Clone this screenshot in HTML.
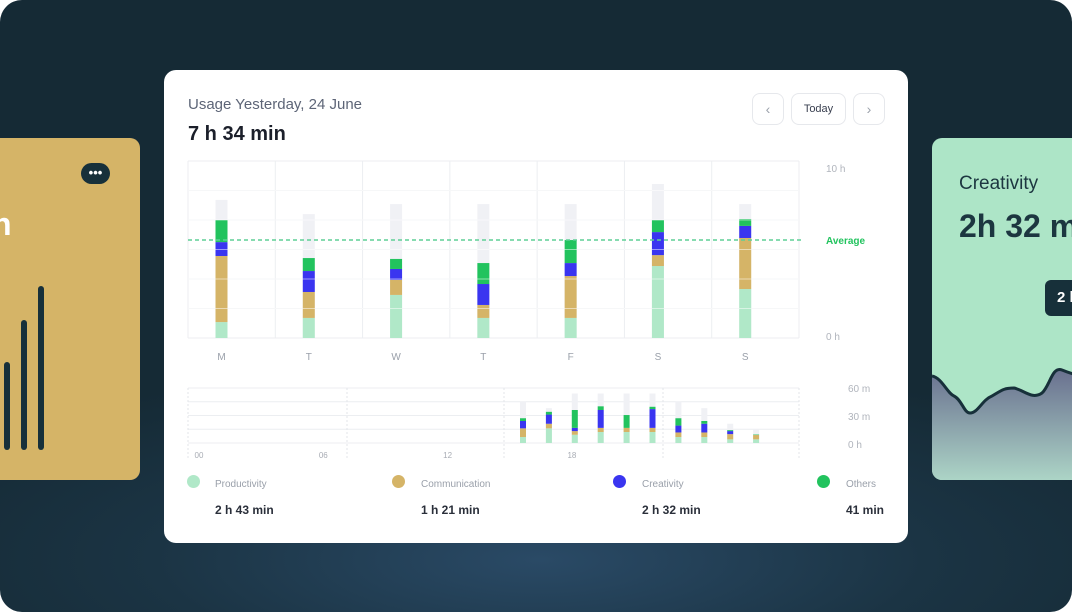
<!DOCTYPE html>
<html><head><meta charset="utf-8">
<style>
*{margin:0;padding:0;box-sizing:border-box}
body{width:1072px;height:612px;overflow:hidden;background:#fff;font-family:"Liberation Sans",sans-serif}
#bg{position:absolute;left:0;top:0;width:1072px;height:612px;border-radius:22px;overflow:hidden;background:radial-gradient(ellipse 700px 200px at 540px 560px,#2a4a66 0%,#1b3444 55%,#152a35 100%)}
.abs{position:absolute}
</style></head><body>
<div id="bg">
  <div class="abs" style="left:-20px;top:138px;width:160px;height:342px;background:#d5b467;border-radius:10px">
    <div class="abs" style="left:101px;top:25px;width:29px;height:21px;background:#17303a;border-radius:11px;color:#fff;font-size:13px;text-align:center;line-height:19px;font-weight:bold">•••</div>
    <div class="abs" style="left:12px;top:68px;color:#fff;font-size:32px;font-weight:bold">n</div>
    <div class="abs" style="left:24px;top:224px;width:6px;height:88px;background:#17303a;border-radius:3px"></div>
    <div class="abs" style="left:41px;top:182px;width:6px;height:130px;background:#17303a;border-radius:3px"></div>
    <div class="abs" style="left:58px;top:148px;width:6px;height:164px;background:#17303a;border-radius:3px"></div>
  </div>
  <div class="abs" style="left:932px;top:138px;width:170px;height:342px;background:#ade5c7;border-radius:10px;overflow:hidden">
    <div class="abs" style="left:27px;top:35px;color:#1c3640;font-size:19px">Creativity</div>
    <div class="abs" style="left:27px;top:70px;color:#1c3640;font-size:32px;font-weight:bold">2h 32 m</div>
    <div class="abs" style="left:113px;top:142px;width:60px;height:36px;background:#17303a;border-radius:6px;color:#fff;font-size:15px;font-weight:bold;padding:9px 0 0 12px">2 h</div>
    <svg class="abs" style="left:0;top:0" width="170" height="342">
      <defs><linearGradient id="wg" x1="0" y1="0" x2="0" y2="1"><stop offset="0" stop-color="#69708f"/><stop offset="1" stop-color="#acd4c6"/></linearGradient></defs>
      <path d="M0,238 C10,240 15,255 22,258 C30,262 32,275 38,275 C46,275 50,262 60,258 C70,252 72,250 82,250 C92,252 100,262 110,255 C118,248 120,228 130,232 C140,236 150,240 170,238 L170,342 L0,342Z" fill="url(#wg)"/>
      <path d="M0,238 C10,240 15,255 22,258 C30,262 32,275 38,275 C46,275 50,262 60,258 C70,252 72,250 82,250 C92,252 100,262 110,255 C118,248 120,228 130,232 C140,236 150,240 170,238" fill="none" stroke="#17303a" stroke-width="3"/>
    </svg>
  </div>
  <div class="abs" style="left:164px;top:70px;width:744px;height:473px;background:#fff;border-radius:12px">
    <div class="abs" style="left:24px;top:26px;font-size:15px;color:#5d6577">Usage Yesterday, 24 June</div>
    <div class="abs" style="left:24px;top:53px;font-size:20px;color:#1b1f2a;font-weight:bold">7 h 34 min</div>
    <div class="abs" style="left:588px;top:23px;width:32px;height:32px;border:1px solid #e6e8ec;border-radius:8px;color:#9aa0aa;text-align:center;line-height:30px;font-size:14px">‹</div>
    <div class="abs" style="left:627px;top:23px;width:55px;height:32px;border:1px solid #e6e8ec;border-radius:8px;color:#3a4050;text-align:center;line-height:30px;font-size:11px">Today</div>
    <div class="abs" style="left:689px;top:23px;width:32px;height:32px;border:1px solid #e6e8ec;border-radius:8px;color:#9aa0aa;text-align:center;line-height:30px;font-size:14px">›</div>
  </div>
  <svg id="chart" class="abs" style="left:0;top:0" width="1072" height="612"></svg>
  <div class="abs" style="left:0;top:0;width:1072px;height:612px;font-size:10px;color:#9aa0aa">
    <div class="abs" style="left:187px;top:475px;width:13px;height:13px;border-radius:7px;background:#b0e8c8"></div>
    <div class="abs" style="left:215px;top:479px">Productivity</div>
    <div class="abs" style="left:215px;top:503px;font-size:12px;font-weight:bold;color:#2a2f3a">2 h 43 min</div>
    <div class="abs" style="left:392px;top:475px;width:13px;height:13px;border-radius:7px;background:#d5b467"></div>
    <div class="abs" style="left:421px;top:479px">Communication</div>
    <div class="abs" style="left:421px;top:503px;font-size:12px;font-weight:bold;color:#2a2f3a">1 h 21 min</div>
    <div class="abs" style="left:613px;top:475px;width:13px;height:13px;border-radius:7px;background:#3a35f0"></div>
    <div class="abs" style="left:642px;top:479px">Creativity</div>
    <div class="abs" style="left:642px;top:503px;font-size:12px;font-weight:bold;color:#2a2f3a">2 h 32 min</div>
    <div class="abs" style="left:817px;top:475px;width:13px;height:13px;border-radius:7px;background:#22c35e"></div>
    <div class="abs" style="left:846px;top:479px">Others</div>
    <div class="abs" style="left:846px;top:503px;font-size:12px;font-weight:bold;color:#2a2f3a">41 min</div>
  </div>
</div>
<script>
const days=["M","T","W","T","F","S","S"];
const dayTotal=[4.68,4.2,4.54,4.54,4.54,5.22,4.54];
const dayProd=[0.54,0.68,1.46,0.68,0.68,2.44,1.66];
const dayComm=[2.24,0.88,0.51,0.44,1.42,0.37,1.73];
const dayCreat=[0.47,0.71,0.37,0.71,0.44,0.78,0.41];
const dayOthers=[0.75,0.44,0.34,0.71,0.78,0.41,0.23];
const dayAverage=3.32;
const dayTicks=["10 h","0 h"];
const hourSlots=[0,1,2,3,4,5,6,7,8,9];
const hourTotal=[45,38,54,54,54,54,45,38,21,15];
const hourProd=[6.5,16,9,12,12,12,6.5,6.5,4,4];
const hourComm=[9.5,5,4,4.5,4.5,4.5,5,5,5.7,4.7];
const hourCreat=[8,10,3.5,19.5,0,20.5,7.5,9.5,3.3,0];
const hourOthers=[3,3,19.5,4,14,2.5,8,3,1,0.5];
const hourLabels=["00","06","12","18"];
const hourTicks=["60 m","30 m","0 h"];
const colors=["#b0e8c8","#d5b467","#3a35f0","#22c35e"];
const NS="http://www.w3.org/2000/svg";
const svg=document.getElementById('chart');
function mk(t,a){const e=document.createElementNS(NS,t);for(const k in a)e.setAttribute(k,a[k]);svg.appendChild(e);return e;}
const yD=v=>338-v*29.5;
const colW=(799-188)/7;
const xD=i=>188+i*colW+33.5;
for(let g=0;g<=6;g++){const l=mk('line',{x1:188,x2:799,y1:yD(g),y2:yD(g),stroke:'#eceef1','stroke-width':1});}
for(let c=0;c<=7;c++){const l=mk('line',{x1:188+c*colW,x2:188+c*colW,y1:161,y2:338,stroke:'#eceef1','stroke-width':1});}
days.forEach((d,i)=>{
  const x=xD(i)-6;
  const b=mk('rect',{x:x,y:yD(dayTotal[i]),width:12,height:yD(0)-yD(dayTotal[i]),fill:'#f0f1f5'});
  
  let acc=0;[dayProd,dayComm,dayCreat,dayOthers].forEach((s,k)=>{
    const r=mk('rect',{x:x,y:yD(acc+s[i]),width:12,height:yD(acc)-yD(acc+s[i]),fill:colors[k]});
    acc+=s[i];});
  const t=mk('text',{x:xD(i),y:360,'text-anchor':'middle','font-size':10,fill:'#9aa0aa'});t.textContent=d;
  
});
for(let g=1;g<6;g++){mk('line',{x1:188,x2:799,y1:yD(g),y2:yD(g),stroke:'#ffffff','stroke-opacity':0.5,'stroke-width':1});}
const av=mk('line',{x1:188,x2:801,y1:yD(dayAverage),y2:yD(dayAverage),stroke:'#5fcf96','stroke-width':1.5,'stroke-dasharray':'4 3'});

const at=mk('text',{x:826,y:yD(dayAverage)+4,'font-size':10,'font-weight':'bold',fill:'#22c35e'});at.textContent='Average';

[[dayTicks[0],172],[dayTicks[1],340]].forEach(([s,y])=>{const t=mk('text',{x:826,y:y,'font-size':10,fill:'#b0b4bc'});t.textContent=s;});
const yH=v=>443-v*(55/60);
const xH=i=>523+i*25.9;
for(let g=0;g<=4;g++){const l=mk('line',{x1:188,x2:799,y1:yH(g*15),y2:yH(g*15),stroke:'#eceef1','stroke-width':1});}
[188,347,504,663,799].forEach(x=>{const l=mk('line',{x1:x,x2:x,y1:388,y2:458,stroke:'#e3e5ea','stroke-dasharray':'2 2'});});
hourSlots.forEach(i=>{
  const x=xH(i)-3;
  const b=mk('rect',{x:x,y:yH(hourTotal[i]),width:6,height:yH(0)-yH(hourTotal[i]),fill:'#f0f1f5'});
  
  let acc=0;[hourProd,hourComm,hourCreat,hourOthers].forEach((s,k)=>{
    const r=mk('rect',{x:x,y:yH(acc+s[i]),width:6,height:yH(acc)-yH(acc+s[i]),fill:colors[k]});
    acc+=s[i];});
});
hourLabels.forEach((s,i)=>{const t=mk('text',{x:199+i*124.3,y:458,'text-anchor':'middle','font-size':8,fill:'#a8acb4'});t.textContent=s;});
hourTicks.forEach((s,i)=>{const t=mk('text',{x:848,y:392+i*28,'font-size':10,fill:'#b0b4bc'});t.textContent=s;});
</script>
</body></html>
